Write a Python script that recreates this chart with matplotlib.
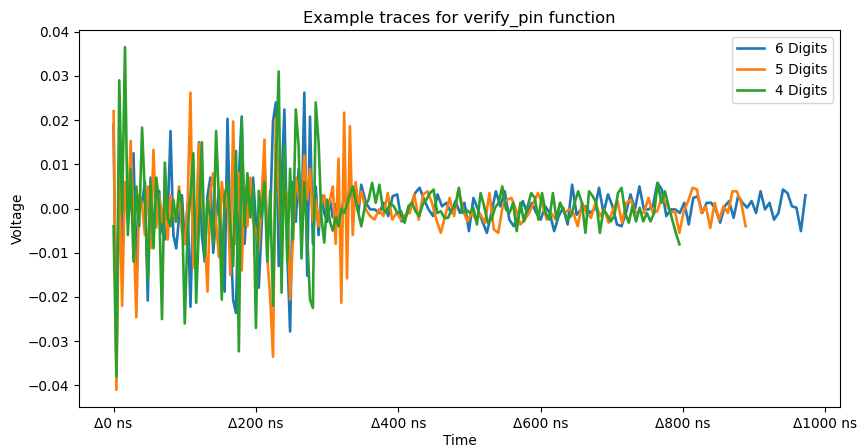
import numpy as np
import matplotlib
matplotlib.use("Agg")
import matplotlib.pyplot as plt

plt.rcParams['font.size'] = 9.8
plt.rcParams['axes.titlesize'] = 11.75

# values, in 1e-3 V
blue_early = [19,-36,14,-8,5,-3,2,12.5,-14,3,1,6,-20.8,7,-6,2,4,-5,-7,-2,17.5,-6,-9,-2,3,-8,1,-22.2,2,-7,15,-6,-12,3,7,-10,-2,4,-6,-18.8,20.3,-5,-20.7,-23.6,7,20.8,-8,3,-1,7,-3,-17.9,-4,10,-7,-2,19.7,24,-13,6,22.4,-10,-27.8,6,-3,9,-4,26.2,-15.2,20.8,-8,5,-6,3,-1,-3,2,-2,1,-3,-1,3,1,5,3,2,-1]
blue_late = [5.4,1.3,-.2,-.2,-1,1.3,-1.7,2.8,3.2,-2.9,-1.7,.5,3.5,4.7,2,-.2,-1.7,3.2,.5,1.3,-1,1.7,-1,1.3,-5.1,2.4,-.2,-2.9,-5.5,-1,3.9,.5,3.9,-2.5,-4,-1.7,1.7,-1,1.3,-1,-2.5,.5,-1,-5.1,-1.7,.2,-3.6,5.4,-1.4,-.2,.5,
             -1,-.2,4.7,-1,3.2,.5,-3.6,-4,-1,3.2,-.2,5,-.2,-.2,.5,5.8,4.3,-1.7,-.2,-.2,-1,1.3,-3.6,2.4,2.8,-1,1.3,1.3,-.2,-3.2,.5,1.7,-2.1,2.8,1.3,.2,1.7,-1,3.9,-.2,1.3,-2.5,-1,4.3,3.5,.5,.2,-5.1,3]
orange_early = [22,-41,8,-22,6,-2,15.3,-4,-24.6,3,1,-6,5,-9,13.3,-4.3,3,-3,2,-7,3,-1,-3,5,-5,-8,1,26.2,-13.4,-5,14.7,2,-6,-18.8,4,8,-3,-11,6,0,4,-15,19.7,-8,8,-14,5,-4,7,-3,-5,-9,2,15.6,-11,-20,-33.5,20.5,4,-10,5,3,-20.6,-7,7,3,-2,12,2,9,-3,2,-4,1,3,-1,2,5,-8,11.3,-21.3,21.7,-15.8,18.6,-6,6,1]
orange_late = [3.9,-.2,-1.7,-2.5,-.2,-1.7,3.5,-2.5,-1,-2.5,-1.4,-1,3.2,-2.5,3.2,3.9,1.3,-2.5,-5.5,-1.7,2.4,-1.7,4.3,-.2,-2.9,-1,-2.5,-1.4,-3.2,3.5,-4.7,-5.5,.5,2,2.4,-.2,-3.6,-2.5,-1,1.3,3.5,.9,-2.5,-1,-2.5,1.3,-1,-.2,-1,-4,1.3,-1,-2.1,1.3,-1.7,
               -.2,-3.2,-.2,1.7,-3.2,1.3,2,-1,-.6,-1,2.4,-1,-.6,2.4,1.3,-1,-.6,-5.5,-.6,1.7,4.7,4.3,-1,.5,-4.4,1.3,-2.5,.5,-1,3.9,3.9,1.3,-4]
green_early = [-4,-38,29,-1,36.5,-6,9,-12,5,-4,18.3,3,-16.3,6,-9,7,1,-25,10.4,-2,-4,2,-3,4,1,-26,-5,3,12.5,-21.3,-3,15,-11,2,-2,-8,17.5,2,-20.6,3,6,-4,-13,13,-32.3,20,-4,8,-2,5,-27,4,-2,6,-12,4,-22,10,31,-19,14,-12,9,-7,22.4,14,-11.3,6,-6,-20.6,-22.5,24,15,-2,-7.7,2,-3,-5,-2,-4,0,-1,1,3,5,2,-1]
green_late = [-4,.5,2,5.8,1.3,5.4,-.2,-1,1.3,.5,-1,-.6,-3.2,.5,1.3,-.6,-1.7,.9,2,3.5,4.3,-1,-.6,-2.1,-2.1,-.2,.5,4.7,-1,-.2,-1,.2,-3.6,3.5,.5,-3.2,-2.5,.2,1.3,5,-.2,-1,1.3,-5.1,1.3,-2.9,.5,3.5,2.4,-2.5,3.5,-1,-2.5,3.5,-2.5,1.3,-.6,-2.5,-1.7,1.3,3.9,1.3,-5.5,
              3.9,2.8,1.3,-5.5,-.2,-1.4,-2.9,-1.7,3.5,4.7,-1,-3.2,.5,-2.9,.2,-2.9,-1,-2.9,-1,5.8,1.3,3.9,.5,-2.5,-5.5,-8.1]
end_times = [972, 888, 795]
labels = ["6 Digits", "5 Digits", "4 Digits"]
tick_ns = [0, 200, 400, 600, 800, 1000]

fig = plt.figure(figsize=(8.59, 4.48), dpi=100)
ax = fig.add_axes([79/859, 1-407/448, 761/859, 377/448])

traces = [(blue_early, blue_late), (orange_early, orange_late), (green_early, green_late)]
for (early, late), end, label in zip(traces, end_times, labels):
    t_early = np.arange(len(early))*4
    t_late = np.linspace(t_early[-1]+4, end, len(late))
    t = np.concatenate([t_early, t_late])
    ax.plot(t, np.array(early+late)/1000, label=label, lw=1.9)

ax.set_xticks(tick_ns)
ax.set_xticklabels(["Δ%d ns" % n for n in tick_ns])
ax.set_title("Example traces for verify_pin function", pad=5)
ax.set_xlabel("Time", labelpad=2.5)
ax.set_ylabel("Voltage", labelpad=2)
ax.legend(loc="upper right")
fig.savefig("out.png", dpi=100)
